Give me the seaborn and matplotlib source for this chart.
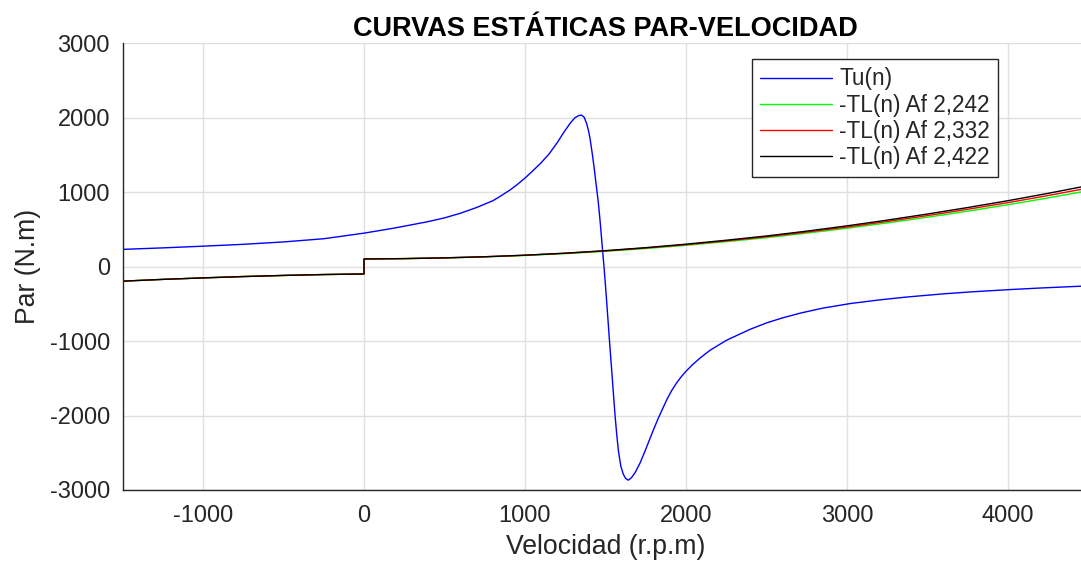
import numpy as np
import pandas as pd
import matplotlib
matplotlib.use("Agg")
import matplotlib.pyplot as plt
import seaborn as sns

# ---------------- data ----------------
# Motor torque Tu(n)
n_tu = [-1500, -1250, -1000, -750, -500, -250, 0, 180, 390, 500, 600, 700,
        800, 850, 907, 950, 1000, 1050, 1100, 1150, 1200, 1240, 1280, 1310,
        1335, 1352, 1368, 1383, 1395, 1404, 1418, 1430, 1442, 1455, 1467,
        1480, 1493, 1507, 1524, 1545, 1559, 1570, 1580, 1595, 1611, 1625,
        1642, 1660, 1683, 1714, 1745, 1776, 1800, 1828, 1880, 1910, 1942,
        1970, 2000, 2040, 2087, 2150, 2253, 2400, 2501, 2600, 2714, 2850,
        3025, 3200, 3371, 3600, 3784, 4012, 4200, 4500]
tu = [232, 252, 275, 300, 332, 375, 450, 515, 601, 655, 718, 795,
      885, 950, 1030, 1100, 1190, 1290, 1395, 1515, 1665, 1800, 1925, 2000,
      2030, 2035, 2005, 1920, 1820, 1720, 1515, 1320, 1100, 870, 600,
      265, -60, -460, -975, -1580, -1990, -2260, -2470, -2680, -2790, -2845,
      -2868, -2838, -2770, -2640, -2480, -2310, -2180, -2035, -1790, -1668, -1560,
      -1480, -1405, -1318, -1228, -1122, -987, -840, -755, -688, -622, -557,
      -494, -447, -408, -365, -337, -308, -287, -258]

# Load torque -TL(n): negative speed branch (common to all three)
n_neg = [-1500, -1250, -1000, -750, -500, -250, 0]
tl_neg = [-195, -171, -151, -133, -118, -106, -98]

# positive speed branch
n_pos = [0, 250, 500, 750, 1000, 1250, 1500, 1750, 2000, 2250, 2500, 2750,
         3000, 3250, 3500, 3750, 4000, 4250, 4500]
tl_2422 = [103, 108, 118, 133, 154, 181, 215, 255, 302, 355, 412, 477,
           548, 625, 707, 794, 886, 985, 1090]
tl_2332 = [103, 108, 118, 133, 153, 180, 211, 251, 295, 346, 401, 464,
           532, 607, 686, 771, 860, 956, 1057]
tl_2242 = [103, 108, 117, 131, 150, 175, 206, 243, 287, 336, 389, 450,
           516, 588, 664, 746, 832, 924, 1021]

labels = ["Tu(n)", "-TL(n) Af 2,242", "-TL(n) Af 2,332", "-TL(n) Af 2,422"]
colors = ["#0000ff", "#00ff00", "#ff0000", "#000000"]

x_ticks = [-1000, 0, 1000, 2000, 3000, 4000]
y_ticks = [-3000, -2000, -1000, 0, 1000, 2000, 3000]

# ---------------- style ----------------
sns.set_style("white")
plt.rcParams["font.family"] = ["Liberation Sans", "DejaVu Sans"]

W, H = 1081, 572
fig = plt.figure(figsize=(W / 100, H / 100), dpi=100)
ax_left, ax_right = 122.5, 1088.5
ax_top, ax_bot = 43.3, 490.0
ax = fig.add_axes([ax_left / W, 1 - ax_bot / H,
                   (ax_right - ax_left) / W, (ax_bot - ax_top) / H])

lw = 1.0
sns.lineplot(x=n_tu, y=tu, ax=ax, color=colors[0], linewidth=lw,
             label=labels[0], estimator=None, sort=False)

tl_sets = [tl_2242, tl_2332, tl_2422]
for lab, col, tl in zip(labels[1:], colors[1:], tl_sets):
    df = pd.DataFrame({"n": n_neg + n_pos, "T": tl_neg + tl})
    sns.lineplot(data=df, x="n", y="T", ax=ax, color=col, linewidth=lw,
                 label=lab, estimator=None, sort=False)

ax.set_xlim(-1500, 4500)
ax.set_ylim(-3000, 3000)
ax.set_xticks(x_ticks)
ax.set_yticks(y_ticks)
ax.set_xticklabels([str(v) for v in x_ticks])
ax.set_yticklabels([str(v) for v in y_ticks])

ax.grid(True, color="#e0e0e0", linewidth=1.0)
ax.set_axisbelow(True)
for s in ["top", "right"]:
    ax.spines[s].set_visible(False)
for s in ["left", "bottom"]:
    ax.spines[s].set_color("#262626")
    ax.spines[s].set_linewidth(1.0)

ax.tick_params(axis="both", direction="in", length=6.5, width=1.0,
               color="#262626", labelcolor="#262626", labelsize=17)
ax.tick_params(axis="y", pad=9)
ax.tick_params(axis="x", pad=11)

ax.set_xlabel("Velocidad (r.p.m)", fontsize=19.2, color="#262626", labelpad=5)
ax.set_ylabel("Par (N.m)", fontsize=19.2, color="#262626", labelpad=6)
ax.set_title("CURVAS ESTÁTICAS PAR-VELOCIDAD", fontsize=19.5, fontweight="bold",
             color="black", pad=5)

leg = ax.legend(loc="upper right", bbox_to_anchor=(998 / W, 1 - 59.3 / H),
                bbox_transform=fig.transFigure, fontsize=16.3, frameon=True,
                fancybox=False, shadow=False, framealpha=1, borderaxespad=0,
                handlelength=3.2, handletextpad=0.3, borderpad=0.36,
                labelspacing=0.14)
leg.get_frame().set_edgecolor("#262626")
leg.get_frame().set_linewidth(1.0)
for line in leg.get_lines():
    line.set_linewidth(1.0)

fig.savefig("out.png", dpi=100)
